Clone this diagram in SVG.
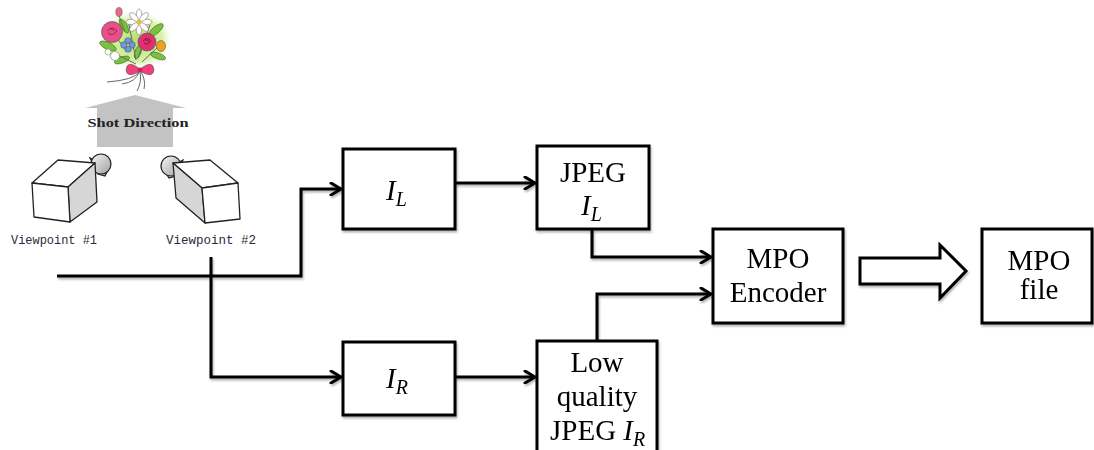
<svg xmlns="http://www.w3.org/2000/svg" width="1094" height="450" viewBox="0 0 1094 450">
  <defs>
    <style>
      .box { fill: #fff; stroke: #000; stroke-width: 3; stroke-linejoin: miter; }
      .wire { fill: none; stroke: #000; stroke-width: 3; stroke-linejoin: miter; }
      .lbl { font-family: "Liberation Serif", "Times New Roman", serif; font-size: 29px; fill: #000; text-anchor: middle; }
      .it { font-family: "Liberation Serif", "Times New Roman", serif; font-style: italic; font-size: 29px; fill: #000; }
      .sub { font-size: 20px; }
      .vp { font-family: "Liberation Mono", "Courier New", monospace; font-size: 12.5px; fill: #2a2a3a; }
      .cam { stroke: #222; stroke-width: 1.3; stroke-linejoin: round; }
      .lens { fill: url(#lensShade); stroke: #222; stroke-width: 1.2; }
      .petal { fill: #fff; stroke: #777; stroke-width: 0.6; }
      .stem { fill: none; stroke: #666; stroke-width: 1; }
      .leaf { fill: #7cc040; stroke: #3a6a20; stroke-width: 0.6; }
    </style>
    <filter id="soft" x="-10%" y="-10%" width="130%" height="140%">
      <feDropShadow dx="1" dy="2" stdDeviation="1.2" flood-color="#000" flood-opacity="0.3"/>
    </filter>
    <marker id="arrow" markerWidth="14" markerHeight="14" refX="0" refY="0" viewBox="-12 -7 14 14" orient="auto" markerUnits="userSpaceOnUse">
      <path d="M-10,-6 L0,0 L-10,6" fill="none" stroke="#000" stroke-width="3" stroke-linecap="round" stroke-linejoin="miter"/>
    </marker>
    <radialGradient id="leafGlow" cx="0.5" cy="0.5" r="0.5">
      <stop offset="0" stop-color="#b8e070"/>
      <stop offset="0.7" stop-color="#d8f2a8"/>
      <stop offset="1" stop-color="#ffffff" stop-opacity="0"/>
    </radialGradient>
    <linearGradient id="lensShade" x1="0" y1="0" x2="1" y2="1">
      <stop offset="0" stop-color="#f6f6f6"/>
      <stop offset="1" stop-color="#a0a0a0"/>
    </linearGradient>
  </defs>

  <!-- flower bouquet (subject) -->
  <g id="bouquet">
    <ellipse cx="136" cy="40" rx="38" ry="31" fill="url(#leafGlow)"/>
    <ellipse class="leaf" cx="108" cy="46" rx="9" ry="3.5" transform="rotate(25 108 46)"/>
    <ellipse class="leaf" cx="124" cy="26" rx="8" ry="3" transform="rotate(60 124 26)"/>
    <ellipse class="leaf" cx="156" cy="30" rx="9" ry="3.5" transform="rotate(-40 156 30)"/>
    <ellipse class="leaf" cx="158" cy="56" rx="8" ry="3" transform="rotate(20 158 56)"/>
    <ellipse class="leaf" cx="138" cy="52" rx="7" ry="3" transform="rotate(-70 138 52)"/>
    <ellipse class="leaf" cx="122" cy="60" rx="8" ry="3" transform="rotate(-20 122 60)"/>
    <path d="M110,30 L128,52 M150,25 L138,58 M160,45 L142,62 M118,55 L136,64 M128,20 L136,60" class="stem" stroke="#4a8a2a"/>
    <!-- bud -->
    <ellipse cx="119" cy="12" rx="3.2" ry="4.5" fill="#e86a8a" stroke="#666" stroke-width="0.6"/>
    <line x1="119" y1="16" x2="125" y2="32" stroke="#4a8a2a" stroke-width="1"/>
    <!-- daisy -->
    <g transform="translate(139,22)">
      <ellipse class="petal" cx="0" cy="-7" rx="2.8" ry="6"/>
      <ellipse class="petal" cx="0" cy="7" rx="2.8" ry="6"/>
      <ellipse class="petal" cx="-7" cy="0" rx="6" ry="2.8"/>
      <ellipse class="petal" cx="7" cy="0" rx="6" ry="2.8"/>
      <ellipse class="petal" cx="-5" cy="-5" rx="2.8" ry="5.5" transform="rotate(-45 -5 -5)"/>
      <ellipse class="petal" cx="5" cy="5" rx="2.8" ry="5.5" transform="rotate(-45 5 5)"/>
      <ellipse class="petal" cx="5" cy="-5" rx="2.8" ry="5.5" transform="rotate(45 5 -5)"/>
      <ellipse class="petal" cx="-5" cy="5" rx="2.8" ry="5.5" transform="rotate(45 -5 5)"/>
      <circle cx="0" cy="0" r="2.5" fill="#e8c030"/>
    </g>
    <!-- roses -->
    <circle cx="112" cy="32" r="10.5" fill="#e8508a" stroke="#555" stroke-width="0.7"/>
    <path d="M107,31 Q112,25 117,31 Q112,37 108,33 M110,29 Q113,28 114,31" fill="none" stroke="#8a1a40" stroke-width="0.8"/>
    <circle cx="147" cy="42" r="9" fill="#e03070" stroke="#555" stroke-width="0.7"/>
    <path d="M143,41 Q147,36 151,41 Q147,46 144,43 M145,40 Q148,39 149,42" fill="none" stroke="#801030" stroke-width="0.8"/>
    <!-- blue flower -->
    <g transform="translate(128,45)" fill="#6a9ae0" stroke="#445" stroke-width="0.5">
      <circle cx="0" cy="-4" r="3.3"/>
      <circle cx="4" cy="0" r="3.3"/>
      <circle cx="0" cy="4" r="3.3"/>
      <circle cx="-4" cy="0" r="3.3"/>
      <circle cx="0" cy="0" r="1.6" fill="#f0d040"/>
    </g>
    <!-- orange flower -->
    <ellipse cx="161" cy="46" rx="4.5" ry="5.5" fill="#f0a020" stroke="#555" stroke-width="0.6"/>
    <!-- small white flowers -->
    <circle cx="115" cy="56" r="4.5" fill="#fff" stroke="#888" stroke-width="0.7"/>
    <circle cx="108" cy="52" r="3" fill="#fff" stroke="#888" stroke-width="0.6"/>
    <!-- bow -->
    <path d="M140,69 Q127,59 126,70 Q127,79 140,71 Z" fill="#f0407a" stroke="#555" stroke-width="0.6"/>
    <path d="M140,69 Q153,59 154,70 Q153,79 140,71 Z" fill="#f0407a" stroke="#555" stroke-width="0.6"/>
    <circle cx="140" cy="70" r="2.4" fill="#d02060"/>
    <!-- ribbons and stems -->
    <path d="M139,72 Q134,80 107,82 M140,72 Q142,82 137,91 M141,72 Q146,80 144,89 M139,72 Q136,82 122,84" class="stem"/>
  </g>

  <!-- shooting direction arrow -->
  <g id="shot-direction">
    <polygon points="135,95 186,108 173,108 173,147 97,147 97,108 85,108" fill="#c3c3c3"/>
    <text x="138" y="127" text-anchor="middle" font-family="Liberation Serif, serif" font-weight="bold" font-size="12.5" fill="#222" textLength="101" lengthAdjust="spacingAndGlyphs">Shot Direction</text>
  </g>

  <!-- camera at viewpoint 1: lens tube behind the body -->
  <g id="viewpoint-1">
    <polygon class="lens" points="90,158 98,174 105,176 109,168"/>
    <circle class="lens" cx="101" cy="164" r="10"/>
    <polygon class="cam" points="32,183 58,160 95,163 68,187" fill="#fff"/>
    <polygon class="cam" points="68,187 95,163 97,202 70,222" fill="#d6d6d6"/>
    <polygon class="cam" points="32,183 68,187 70,222 34,217" fill="#fff"/>
    <text class="vp" x="11" y="244" textLength="86" lengthAdjust="spacingAndGlyphs">Viewpoint #1</text>
  </g>

  <!-- camera at viewpoint 2 -->
  <g id="viewpoint-2">
    <polygon class="lens" points="183,160 176,176 169,178 164,170"/>
    <circle class="lens" cx="171" cy="166" r="10"/>
    <polygon class="cam" points="173,163 210,160 238,183 202,188" fill="#fff"/>
    <polygon class="cam" points="173,163 202,188 205,223 176,198" fill="#d6d6d6"/>
    <polygon class="cam" points="202,188 238,183 240,219 205,223" fill="#fff"/>
    <text class="vp" x="166" y="244" textLength="90" lengthAdjust="spacingAndGlyphs">Viewpoint #2</text>
  </g>

  <!-- signal paths -->
  <g id="connectors" filter="url(#soft)">
    <path class="wire" d="M57,276 L301,276 L301,189 L341,189" marker-end="url(#arrow)"/>
    <path class="wire" d="M211,257 L211,377 L341,377" marker-end="url(#arrow)"/>
    <path class="wire" d="M455,183 L535,183" marker-end="url(#arrow)"/>
    <path class="wire" d="M455,377 L535,377" marker-end="url(#arrow)"/>
    <path class="wire" d="M592,229 L592,257 L711,257" marker-end="url(#arrow)"/>
    <path class="wire" d="M597,341 L597,294 L711,294" marker-end="url(#arrow)"/>
    <polygon class="box" points="860,258 940,258 940,245 966,271 940,298 940,284 860,284"/>
  </g>

  <!-- processing blocks -->
  <g id="node-il" filter="url(#soft)">
    <rect class="box" x="343" y="149" width="112" height="80"/>
    <text class="it" x="386" y="200">I<tspan class="sub" dy="6">L</tspan></text>
  </g>

  <g id="node-ir" filter="url(#soft)">
    <rect class="box" x="343" y="342" width="112" height="73"/>
    <text class="it" x="386" y="388">I<tspan class="sub" dy="6">R</tspan></text>
  </g>

  <g id="node-jpeg-il" filter="url(#soft)">
    <rect class="box" x="537" y="146" width="112" height="83"/>
    <text class="lbl" x="593" y="182">JPEG</text>
    <text class="it" x="581" y="215">I<tspan class="sub" dy="6">L</tspan></text>
  </g>

  <g id="node-jpeg-ir" filter="url(#soft)">
    <rect class="box" x="537" y="341" width="120" height="115"/>
    <text class="lbl" x="597" y="372">Low</text>
    <text class="lbl" x="597" y="406">quality</text>
    <text x="550" y="440" font-family="Liberation Serif, serif" font-size="29">JPEG <tspan font-style="italic">I</tspan><tspan font-style="italic" font-size="20" dy="6">R</tspan></text>
  </g>

  <g id="node-encoder" filter="url(#soft)">
    <rect class="box" x="713" y="229" width="130" height="94"/>
    <text class="lbl" x="778" y="268">MPO</text>
    <text class="lbl" x="778" y="302">Encoder</text>
  </g>

  <g id="node-file" filter="url(#soft)">
    <rect class="box" x="982" y="229" width="110" height="94"/>
    <text class="lbl" x="1039" y="270">MPO</text>
    <text class="lbl" x="1039" y="299">file</text>
  </g>
</svg>
